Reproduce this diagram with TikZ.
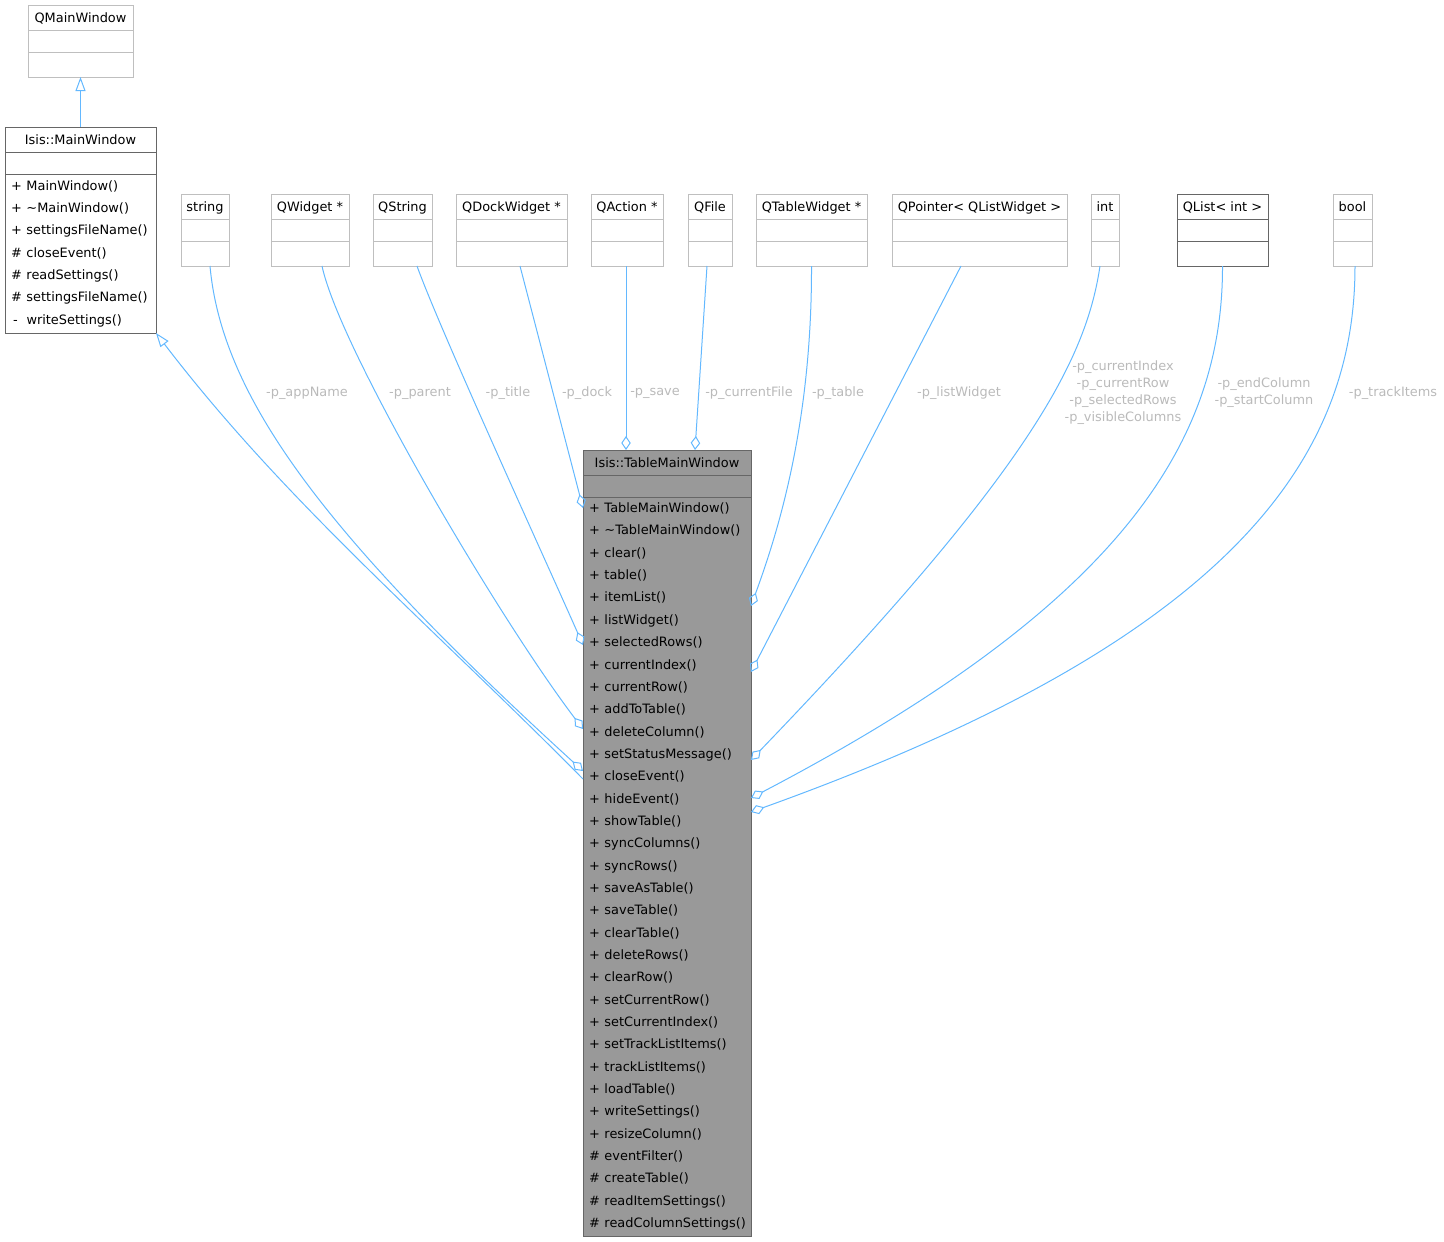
\documentclass[tikz,border=0pt]{standalone}
\usepackage{fontspec}
\setmainfont{DejaVu Sans}
\usepackage{xcolor}
\usepackage{tikz}
\usetikzlibrary{arrows.meta, positioning, calc}
\definecolor{edgeblue}{RGB}{99, 184, 255}
\definecolor{boxgray}{RGB}{191, 191, 191}
\definecolor{borderdark}{RGB}{102, 102, 102}
\definecolor{tmwfill}{RGB}{153, 153, 153}
\definecolor{lblgray}{RGB}{186, 186, 186}
\newcommand{\vis}[1]{\makebox[15.5pt][l]{#1}}
% class box: name, center x, top y, width, title
\newcommand{\umlclass}[6][cls]{%
    \node[#1, minimum width=#5pt, anchor=north] (#2) at (#3,#4) {#6};
    \node[#1, minimum width=#5pt, minimum height=22pt, anchor=north] (#2-a) at (#2.south) {};
    \node[#1, minimum width=#5pt, anchor=north] (#2-o) at (#2-a.south) {};}

\begin{document}
\begin{tikzpicture}[x=1pt, y=-1pt,
    box/.style={rectangle, draw=boxgray, fill=white, line width=1pt, inner sep=0pt, outer sep=0pt,
        font=\fontsize{12.9}{15}\selectfont},
    cls/.style={box, minimum height=25pt, text height=10.5pt, text depth=0.5pt},
    clsdark/.style={cls, draw=borderdark},
    members/.style={box, align=left, inner xsep=6pt, inner ysep=0pt,
        font=\fontsize{12.9}{22.34}\selectfont},
    agg/.style={draw=edgeblue, line width=1pt, -{Diamond[open, length=14pt, width=9.5pt]}},
    inh/.style={draw=edgeblue, line width=1pt, {Triangle[open, length=14pt, width=10pt]}-},
    lbl/.style={font=\fontsize{12.9}{17}\selectfont, text=lblgray, align=center, inner sep=0pt}]

    \useasboundingbox (0,0) rectangle (1444,1242);

    % Base classes
    \umlclass{qmainwin}{80.5}{5}{105}{QMainWindow}
    \node[clsdark, minimum width=151pt, anchor=north] (mainwin) at (80.5,127) {Isis::MainWindow};
    \node[clsdark, minimum width=151pt, minimum height=22pt, anchor=north] (mainwin-a) at (mainwin.south) {};
    \node[members, draw=borderdark, text width=139pt, minimum height=159pt, anchor=north] (mainwin-o)
        at (mainwin-a.south) {\vis{+}MainWindow()\\ \vis{+}\textasciitilde MainWindow()\\
        \vis{+}settingsFileName()\\ \vis{\#}closeEvent()\\ \vis{\#}readSettings()\\
        \vis{\#}settingsFileName()\\ \vis{\,-}writeSettings()};

    % Member types
    \umlclass{string}{205}{194}{48}{string}
    \umlclass{qwidget}{310}{194}{78}{QWidget *}
    \umlclass{qstring}{402.5}{194}{59}{QString}
    \umlclass{qdock}{511.5}{194}{111}{QDockWidget *}
    \umlclass{qaction}{627}{194}{72}{QAction *}
    \umlclass{qfile}{710}{194}{44}{QFile}
    \umlclass{qtable}{811.5}{194}{111}{QTableWidget *}
    \umlclass{qpointer}{979.5}{194}{175}{QPointer< QListWidget >}
    \umlclass{int}{1105}{194}{28}{int}
    \umlclass[clsdark]{qlist}{1222.5}{194}{91}{QList< int >}
    \umlclass{bool}{1352.5}{194}{39}{bool}

    % Main class
    \node[clsdark, fill=tmwfill, minimum width=168pt, anchor=north] (tmw) at (667,450) {Isis::TableMainWindow};
    \node[clsdark, fill=tmwfill, minimum width=168pt, minimum height=22pt, anchor=north] (tmw-a) at (tmw.south) {};
    \node[members, draw=borderdark, fill=tmwfill, text width=156pt, minimum height=739pt, anchor=north] (tmw-o)
        at (tmw-a.south) {\vis{+}TableMainWindow()\\ \vis{+}\textasciitilde TableMainWindow()\\
        \vis{+}clear()\\ \vis{+}table()\\ \vis{+}itemList()\\ \vis{+}listWidget()\\
        \vis{+}selectedRows()\\ \vis{+}currentIndex()\\ \vis{+}currentRow()\\ \vis{+}addToTable()\\
        \vis{+}deleteColumn()\\ \vis{+}setStatusMessage()\\ \vis{+}closeEvent()\\ \vis{+}hideEvent()\\
        \vis{+}showTable()\\ \vis{+}syncColumns()\\ \vis{+}syncRows()\\ \vis{+}saveAsTable()\\
        \vis{+}saveTable()\\ \vis{+}clearTable()\\ \vis{+}deleteRows()\\ \vis{+}clearRow()\\
        \vis{+}setCurrentRow()\\ \vis{+}setCurrentIndex()\\ \vis{+}setTrackListItems()\\
        \vis{+}trackListItems()\\ \vis{+}loadTable()\\ \vis{+}writeSettings()\\ \vis{+}resizeColumn()\\
        \vis{\#}eventFilter()\\ \vis{\#}createTable()\\ \vis{\#}readItemSettings()\\
        \vis{\#}readColumnSettings()};

    % Inheritance
    \draw[inh] (qmainwin-o.south) -- (mainwin.north);
    \draw[inh] (mainwin-o.south east) .. controls (285,502) and (433,627) .. ($(tmw.north west)+(0,329)$);

    % Aggregations
    \draw[agg] ($(string-o.south)+(5,0)$) .. controls (222,400) and (330,540) .. ($(tmw.north west)+(0,321)$);
    \draw[agg] ($(qwidget-o.south)+(12,0)$) .. controls (340,350) and (500,620) .. ($(tmw.north west)+(0,279)$);
    \draw[agg] ($(qstring-o.south)+(14.5,0)$) .. controls (440,330) and (550,570) .. ($(tmw.north west)+(0,195)$);
    \draw[agg] ($(qdock-o.south)+(8.5,0)$) -- ($(tmw.north west)+(0,58)$);
    \draw[agg] ($(qaction-o.south)+(-1,0)$) -- ($(tmw.north west)+(43,0)$);
    \draw[agg] ($(qfile-o.south)+(-3,0)$) -- ($(tmw.north west)+(112,0)$);
    \draw[agg] (qtable-o.south) .. controls (812,430) and (775,540) .. ($(tmw.north east)+(0,156)$);
    \draw[agg] ($(qpointer-o.south)+(-18.5,0)$) -- ($(tmw.north east)+(0,222)$);
    \draw[agg] ($(int-o.south)+(-5,0)$) .. controls (1086,360) and (1030,470) .. ($(tmw.north east)+(0,310)$);
    \draw[agg] (qlist-o.south) .. controls (1223,450) and (1110,610) .. ($(tmw.north east)+(0,348)$);
    \draw[agg] ($(bool-o.south)+(2.5,0)$) .. controls (1355,460) and (1230,640) .. ($(tmw.north east)+(0,362)$);

    % Edge labels
    \node[lbl] (l-appname) at (307,393) {-p\_appName};
    \node[lbl] (l-parent) at (420,393) {-p\_parent};
    \node[lbl] (l-title) at (508,393) {-p\_title};
    \node[lbl] (l-dock) at (587,393) {-p\_dock};
    \node[lbl] (l-save) at (655,393) {-p\_save};
    \node[lbl] (l-file) at (749,393) {-p\_currentFile};
    \node[lbl] (l-table) at (838,393) {-p\_table};
    \node[lbl] (l-list) at (959,393) {-p\_listWidget};
    \node[lbl] (l-int) at (1123,393) {-p\_currentIndex\\-p\_currentRow\\-p\_selectedRows\\-p\_visibleColumns};
    \node[lbl] (l-qlist) at (1264,393) {-p\_endColumn\\-p\_startColumn};
    \node[lbl] (l-bool) at (1393,393) {-p\_trackItems};
\end{tikzpicture}
\end{document}
